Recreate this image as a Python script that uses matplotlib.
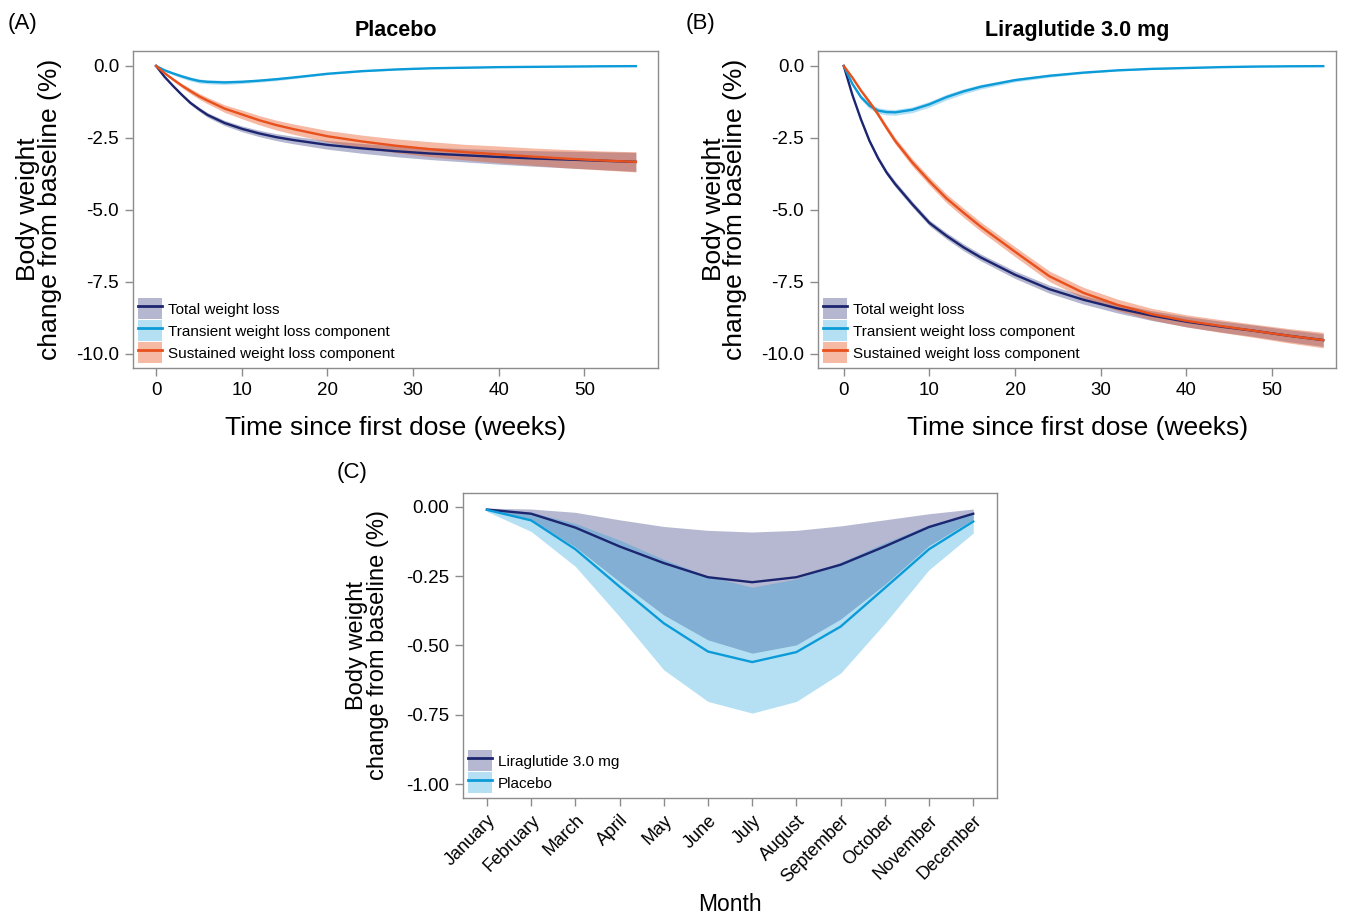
import numpy as np
import matplotlib
matplotlib.use("Agg")
import matplotlib.pyplot as plt
from matplotlib.patches import Patch
from matplotlib.lines import Line2D
from matplotlib.legend_handler import HandlerTuple

plt.rcParams["font.family"] = ["Liberation Sans", "DejaVu Sans"]
plt.rcParams["axes.unicode_minus"] = False

# weeks since first dose
weeks = [0, 1, 2, 3, 4, 5, 6, 8, 10, 12, 14, 16, 20, 24, 28, 32, 36, 40, 44, 48, 52, 56]

# Panel A: placebo (mean, half-width of band)
pla_total = [0, -0.38, -0.7, -1.0, -1.28, -1.5, -1.7, -1.98, -2.18, -2.34, -2.47, -2.57,
             -2.74, -2.86, -2.96, -3.04, -3.1, -3.16, -3.21, -3.25, -3.29, -3.33]
pla_total_hw = [0, 0.02, 0.04, 0.05, 0.06, 0.07, 0.08, 0.09, 0.1, 0.11, 0.12, 0.13,
                0.15, 0.17, 0.19, 0.21, 0.23, 0.25, 0.27, 0.29, 0.31, 0.33]
pla_trans = [0, -0.15, -0.26, -0.36, -0.45, -0.52, -0.55, -0.57, -0.55, -0.51, -0.46, -0.4,
             -0.27, -0.18, -0.12, -0.08, -0.06, -0.04, -0.03, -0.02, -0.01, -0.005]
pla_trans_hw = [0, 0.03, 0.05, 0.06, 0.07, 0.07, 0.07, 0.07, 0.06, 0.05, 0.05, 0.04,
                0.03, 0.02, 0.02, 0.01, 0.01, 0.01, 0.01, 0.01, 0.01, 0.01]
pla_sust = [0, -0.25, -0.47, -0.68, -0.87, -1.05, -1.2, -1.48, -1.68, -1.88, -2.05, -2.19,
            -2.44, -2.62, -2.77, -2.89, -2.99, -3.07, -3.15, -3.22, -3.28, -3.33]
pla_sust_hw = [0, 0.03, 0.05, 0.07, 0.09, 0.1, 0.11, 0.13, 0.15, 0.16, 0.17, 0.18,
               0.2, 0.22, 0.24, 0.26, 0.27, 0.29, 0.3, 0.32, 0.33, 0.35]

# Panel B: liraglutide 3.0 mg
lir_total = [0, -1.0, -1.85, -2.6, -3.2, -3.7, -4.1, -4.8, -5.45, -5.9, -6.3, -6.65,
             -7.25, -7.75, -8.12, -8.42, -8.67, -8.88, -9.05, -9.2, -9.37, -9.52]
lir_total_hw = [0, 0.03, 0.05, 0.07, 0.08, 0.09, 0.1, 0.1, 0.1, 0.11, 0.12, 0.12,
                0.13, 0.14, 0.15, 0.16, 0.17, 0.18, 0.19, 0.2, 0.21, 0.22]
lir_trans = [0, -0.62, -1.08, -1.38, -1.55, -1.6, -1.61, -1.52, -1.33, -1.08, -0.88, -0.72,
             -0.49, -0.34, -0.23, -0.15, -0.1, -0.07, -0.04, -0.02, -0.01, -0.005]
lir_trans_hw = [0, 0.05, 0.08, 0.1, 0.1, 0.1, 0.1, 0.1, 0.1, 0.1, 0.09, 0.08,
                0.06, 0.05, 0.03, 0.02, 0.02, 0.01, 0.01, 0.01, 0.01, 0.01]
lir_sust = [0, -0.4, -0.85, -1.25, -1.68, -2.15, -2.6, -3.35, -4.0, -4.6, -5.1, -5.58,
            -6.45, -7.3, -7.88, -8.3, -8.62, -8.85, -9.03, -9.2, -9.37, -9.52]
lir_sust_hw = [0, 0.03, 0.05, 0.07, 0.09, 0.1, 0.11, 0.13, 0.14, 0.15, 0.16, 0.16,
               0.17, 0.18, 0.19, 0.2, 0.2, 0.21, 0.22, 0.23, 0.25, 0.27]

# Panel C: seasonal component by month
months = ["January", "February", "March", "April", "May", "June", "July",
          "August", "September", "October", "November", "December"]
c_lir = [-0.01, -0.025, -0.075, -0.143, -0.203, -0.254, -0.272, -0.254, -0.209, -0.143, -0.073, -0.025]
c_lir_hi = [-0.005, -0.008, -0.02, -0.047, -0.071, -0.085, -0.091, -0.085, -0.069, -0.047, -0.025, -0.008]
c_lir_lo = [-0.01, -0.045, -0.145, -0.27, -0.39, -0.48, -0.528, -0.498, -0.405, -0.28, -0.14, -0.045]
c_pla = [-0.011, -0.049, -0.153, -0.288, -0.42, -0.522, -0.56, -0.524, -0.432, -0.293, -0.153, -0.053]
c_pla_hi = [-0.005, -0.02, -0.06, -0.12, -0.19, -0.25, -0.29, -0.26, -0.2, -0.13, -0.065, -0.02]
c_pla_lo = [-0.017, -0.089, -0.215, -0.396, -0.588, -0.702, -0.744, -0.702, -0.6, -0.42, -0.227, -0.095]

NAVY = "#1c2570"
CYAN = "#0b9bd8"
ORANGE = "#e8501c"
SPINE = "#8c8c8c"
LW = 1.7

fig = plt.figure(figsize=(13.5, 9.21), dpi=100)


def style_axes(ax):
    for s in ax.spines.values():
        s.set_color(SPINE)
        s.set_linewidth(1.0)
    ax.tick_params(direction="out", length=6, width=1, color=SPINE, labelsize=13.5, pad=4)


def add_legend(ax, handles, labels):
    ax.legend(handles, labels, handler_map={tuple: HandlerTuple(ndivide=1)},
              loc="lower left", bbox_to_anchor=(0.0, 0.0), frameon=False,
              fontsize=11, handlelength=1.6, handleheight=1.75, handletextpad=0.4,
              labelspacing=0.06, borderaxespad=0.15, borderpad=0.15)


def weight_panel(rect, title, tag, tag_x, xlim, series):
    ax = fig.add_axes(rect)
    x = np.array(weeks)
    handles = []
    labels = []
    for (mean, hw, color, alpha, lab) in series:
        m = np.array(mean)
        h = np.array(hw)
        ax.fill_between(x, m - h, m + h, color=color, alpha=alpha, lw=0)
    for (mean, hw, color, alpha, lab) in series:
        ax.plot(x, mean, color=color, lw=LW)
        handles.append((Patch(facecolor=color, alpha=alpha, edgecolor="none"),
                        Line2D([], [], color=color, lw=2)))
        labels.append(lab)
    ax.set_xlim(*xlim)
    ax.set_ylim(-10.49, 0.52)
    ax.set_xticks([0, 10, 20, 30, 40, 50])
    ax.set_yticks([0, -2.5, -5, -7.5, -10])
    ax.set_yticklabels(["0.0", "-2.5", "-5.0", "-7.5", "-10.0"])
    style_axes(ax)
    ax.set_xlabel("Time since first dose (weeks)", fontsize=19, labelpad=12)
    ax.set_ylabel("Body weight\nchange from baseline (%)", fontsize=19, labelpad=10,
                  linespacing=0.88)
    ax.set_title(title, fontsize=15.5, fontweight="bold", pad=11)
    add_legend(ax, handles, labels)
    fig.text(tag_x, 0.974, tag, fontsize=16, ha="left", va="center")
    return ax


weight_panel([0.0985, 0.6004, 0.389, 0.3442], "Placebo", "(A)", 0.006, (-2.7, 58.6),
             [(pla_total, pla_total_hw, NAVY, 0.33, "Total weight loss"),
              (pla_trans, pla_trans_hw, CYAN, 0.3, "Transient weight loss component"),
              (pla_sust, pla_sust_hw, ORANGE, 0.4, "Sustained weight loss component")])
weight_panel([0.606, 0.6004, 0.3837, 0.3442], "Liraglutide 3.0 mg", "(B)", 0.508, (-3.0, 57.5),
             [(lir_total, lir_total_hw, NAVY, 0.33, "Total weight loss"),
              (lir_trans, lir_trans_hw, CYAN, 0.3, "Transient weight loss component"),
              (lir_sust, lir_sust_hw, ORANGE, 0.4, "Sustained weight loss component")])

# Panel C
axc = fig.add_axes([0.343, 0.1336, 0.3956, 0.3312])
mx = np.arange(len(months))
axc.fill_between(mx, c_lir_lo, c_lir_hi, color=NAVY, alpha=0.32, lw=0)
axc.fill_between(mx, c_pla_lo, c_pla_hi, color=CYAN, alpha=0.3, lw=0)
axc.plot(mx, c_lir, color=NAVY, lw=LW)
axc.plot(mx, c_pla, color=CYAN, lw=LW)
axc.set_xlim(-0.54, 11.54)
axc.set_ylim(-1.05, 0.05)
axc.set_yticks([0, -0.25, -0.5, -0.75, -1.0])
axc.set_yticklabels(["0.00", "-0.25", "-0.50", "-0.75", "-1.00"])
axc.set_xticks(mx)
axc.set_xticklabels(months, rotation=45, ha="right", rotation_mode="anchor")
style_axes(axc)
axc.tick_params(axis="x", labelsize=13)
axc.set_xlabel("Month", fontsize=16.5, labelpad=5)
axc.set_ylabel("Body weight\nchange from baseline (%)", fontsize=17, labelpad=12,
               linespacing=0.95)
hc = [(Patch(facecolor=NAVY, alpha=0.32, edgecolor="none"), Line2D([], [], color=NAVY, lw=2)),
      (Patch(facecolor=CYAN, alpha=0.3, edgecolor="none"), Line2D([], [], color=CYAN, lw=2))]
add_legend(axc, hc, ["Liraglutide 3.0 mg", "Placebo"])
fig.text(0.249, 0.487, "(C)", fontsize=16, ha="left", va="center")

fig.savefig("out.png", dpi=100)
